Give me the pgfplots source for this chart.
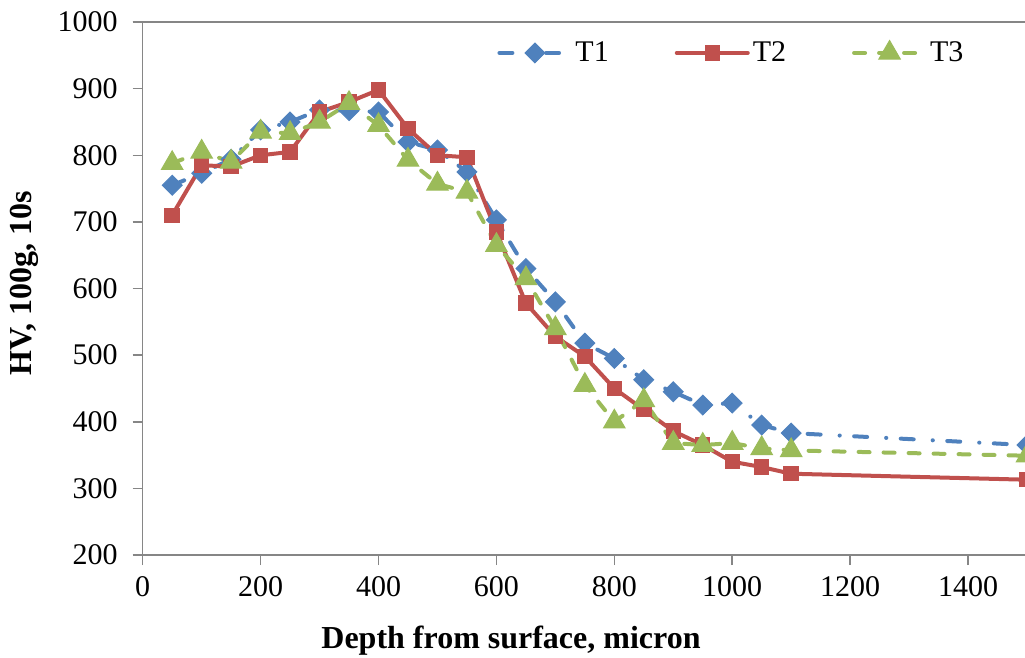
\documentclass[border=0pt]{standalone}
\usepackage{fontspec}
\setmainfont{Liberation Serif}
\usepackage{pgfplots}
\pgfplotsset{compat=1.18}
\definecolor{cA}{HTML}{4F81BD}
\definecolor{cB}{HTML}{C0504D}
\definecolor{cC}{HTML}{9BBB59}
\definecolor{axgray}{HTML}{868686}
\begin{document}
\begin{tikzpicture}
\begin{axis}[
  at={(0,0)}, anchor=south west,
  scale only axis, width=442.15bp, height=266.5bp,
  xmin=0, xmax=1500, ymin=200, ymax=1000,
  xtick={0,200,...,1400}, ytick={200,300,...,1000},
  axis x line*=bottom, axis y line*=left,
  axis line style={draw=axgray, line width=0.75bp},
  tick style={draw=axgray, line width=0.75bp},
  major tick length=5bp, tick align=outside,
  extra y ticks={1000}, extra y tick labels={},
  extra y tick style={grid=major, major grid style={draw=axgray, line width=0.75bp}},
  /pgf/number format/assume math mode=true,
  /pgf/number format/1000 sep={},
  every tick label/.append style={font=\fontsize{15bp}{18bp}\selectfont},
  yticklabel style={xshift=-4bp},
  xticklabel style={yshift=-2.5bp},
  xlabel={\textbf{Depth from surface, micron}},
  ylabel={\textbf{HV, 100g, 10s}},
  xlabel style={at={(rel axis cs:0.4165,0)}, anchor=north, yshift=-32bp, font=\fontsize{16bp}{19bp}\selectfont},
  ylabel style={at={(rel axis cs:0,0.51)}, anchor=center, rotate=0, yshift=59bp, font=\fontsize{16bp}{19bp}\selectfont},
  legend columns=3,
  legend style={at={(rel axis cs:0.4007,0.942)}, anchor=west, draw=none, fill=none, inner sep=0pt,
    font=\fontsize{15bp}{18bp}\selectfont,
    nodes={inner xsep=1.5bp, inner ysep=1bp},
    /tikz/every even column/.append style={column sep=31.5bp}},
  legend image code/.code={\draw[mark repeat=2,mark phase=2,#1] plot coordinates {(0bp,0bp) (17.75bp,0bp) (35.5bp,0bp)};},
]
\addplot[color=cA, line width=2bp, line cap=round, dash pattern=on 6.5bp off 9.5bp on 0.1bp off 7.2bp,
  mark=square*, mark size=3.5bp, mark options={solid, rotate=45, fill=cA, draw=cA, line width=0.5bp}]
coordinates {
(50,755) (100,773) (150,794) (200,838) (250,850) (300,868) (350,867) (400,865)
(450,820) (500,808) (550,775) (600,703) (650,630) (700,580) (750,518) (800,495)
(850,463) (900,445) (950,425) (1000,428) (1050,395) (1100,383) (1500,365)
};
\addlegendentry{T1}
\addplot[color=cB, line width=2bp, line cap=round,
  mark=square*, mark size=3.6bp, mark options={solid, fill=cB, draw=cB, line width=0.5bp}]
coordinates {
(50,710) (100,785) (150,783) (200,800) (250,805) (300,865) (350,880) (400,898)
(450,840) (500,800) (550,797) (600,685) (650,578) (700,528) (750,498) (800,450)
(850,418) (900,386) (950,365) (1000,340) (1050,332) (1100,322) (1500,313)
};
\addlegendentry{T2}
\addplot[color=cC, line width=2bp, line cap=round, dash pattern=on 5.5bp off 7bp,
  mark=triangle*, mark size=6.2bp, mark options={solid, fill=cC, draw=cC, line width=0.5bp}]
coordinates {
(50,788) (100,805) (150,790) (200,835) (250,833) (300,850) (350,878) (400,845)
(450,793) (500,757) (550,745) (600,665) (650,615) (700,540) (750,455) (800,400)
(850,432) (900,368) (950,365) (1000,368) (1050,360) (1100,357) (1500,349)
};
\addlegendentry{T3}
\end{axis}
\pgfresetboundingbox
\useasboundingbox (-71.35bp,-51.5bp) rectangle (441.15bp,277.5bp);
\end{tikzpicture}
\end{document}
